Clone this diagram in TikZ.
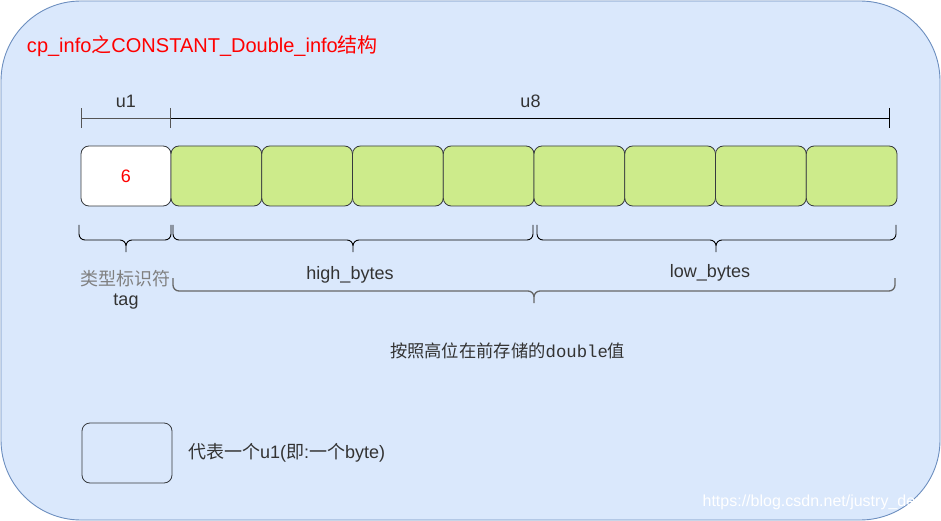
\documentclass[tikz,border=0pt]{standalone}
\usepackage{fontspec}
\setmainfont{Liberation Sans}
\newfontfamily\cjk{Noto Sans CJK SC}
\newfontfamily\mono{Liberation Mono}
\usetikzlibrary{positioning,arrows.meta}
\definecolor{bgfill}{HTML}{DAE8FC}
\definecolor{bgline}{HTML}{6C8EBF}
\definecolor{bytefill}{HTML}{CDEB8B}
\definecolor{byteline}{HTML}{36393D}
\definecolor{txtgray}{HTML}{333333}
\definecolor{dimgray}{HTML}{555555}
% curly bracket: left end, right end, tip, y of the bar
\newcommand{\ubrace}[4]{(#1) -- (#1 |- 0,#4) -- (#3 |- 0,#4) -- (#3)
	(#2) -- (#2 |- 0,#4) -- (#3 |- 0,#4) -- (#3)}
\begin{document}
\begin{tikzpicture}[x=1pt,y=-1pt,
	every node/.style={inner sep=0pt,outer sep=0pt,text=txtgray,font=\fontsize{18}{21}\selectfont},
	cell/.style={draw=byteline,line width=0.8pt,rounded corners=8pt,minimum width=90pt,minimum height=60pt},
	bytecell/.style={cell,fill=bytefill,minimum width=90.75pt},
	dimline/.style={line width=0.9pt},
	curly/.style={line width=0.9pt,rounded corners=6pt}]
\useasboundingbox (0,0) rectangle (941,521);
% background panel
\draw[bgline,fill=bgfill,line width=0.9pt,rounded corners=80pt] (1,1) rectangle (940,520);
\node[anchor=west,text=red,font=\fontsize{20}{24}\selectfont] (title) at (27,46)
	{cp\_info{\cjk 之}CONSTANT\_Double\_info{\cjk 结构}};
% one u1 tag followed by eight bytes
\node[cell,fill=white,text=red] (tag) at (126,176) {6};
\node[bytecell,right=0pt of tag] (b1) {};
\foreach \i [count=\j from 1] in {2,...,8}
	\node[bytecell,right=0pt of b\j] (b\i) {};
% sizes on top
\coordinate (u1a) at (81,118);
\coordinate (u1b) at (171,118);
\coordinate (u8b) at (890,118);
\draw[dimline,draw=dimgray,{Bar[width=20pt]}-{Bar[width=20pt]}] (u1a) -- node[above=10pt] (u1lbl) {u1} (u1b);
\draw[dimline,-{Bar[width=20pt]}] (u1b) -- node[above=10pt] (u8lbl) {u8} (u8b);
% braces below
\coordinate (tga) at (79,225);
\coordinate (tgb) at (171,225);
\coordinate (tgm) at (126,252);
\coordinate (hia) at (173,225);
\coordinate (hib) at (533,225);
\coordinate (him) at (353,252);
\coordinate (loa) at (537,225);
\coordinate (lob) at (896,225);
\coordinate (lom) at (716,252);
\coordinate (ala) at (173,278);
\coordinate (alb) at (895,278);
\coordinate (alm) at (534,303);
\draw[curly] \ubrace{tga}{tgb}{tgm}{240};
\draw[curly] \ubrace{hia}{hib}{him}{240};
\draw[curly] \ubrace{loa}{lob}{lom}{240};
\draw[curly,draw=dimgray!90,line width=1.3pt] \ubrace{ala}{alb}{alm}{291};
\node[text=gray] (tagcn) at (125,279) {\cjk 类型标识符};
\node (taglbl) at (126,302) {tag};
\node (hilbl) at (350,275) {high\_bytes};
\node (lolbl) at (710,273) {low\_bytes};
\node[anchor=west,font=\fontsize{17.3}{20}\selectfont] (note) at (390,351) {\cjk 按照高位在前存储的{\mono double}值};
% legend
\node[cell] (legend) at (127,453) {};
\node[anchor=west,right=16pt of legend] (legendlbl) {{\cjk 代表一个}u1({\cjk 即}:{\cjk 一个}byte)};
\node[anchor=east,text=white,font=\fontsize{16}{19}\selectfont] (mark) at (933,502) {https://blog.csdn.net/justry\_deng};
\end{tikzpicture}
\end{document}
